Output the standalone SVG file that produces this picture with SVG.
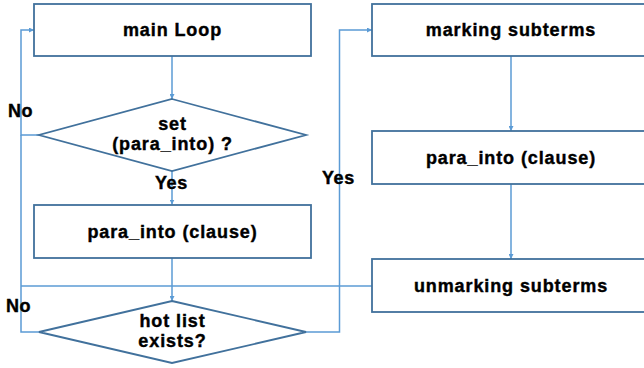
<svg xmlns="http://www.w3.org/2000/svg" width="644" height="368" viewBox="0 0 644 368">
<defs>
<style>
.box{fill:#fff;stroke:#41719C;stroke-width:1.8}
.t{font-family:"Liberation Sans",Arial,sans-serif;font-weight:bold;font-size:18px;letter-spacing:0.9px;fill:#000;stroke:#000;stroke-width:0.4px;text-anchor:middle}
.lbl{font-family:"Liberation Sans",Arial,sans-serif;font-weight:bold;font-size:18px;letter-spacing:0.6px;fill:#000;stroke:#000;stroke-width:0.4px}
.c{fill:none;stroke:#5B9BD5;stroke-width:1.5}
</style>
<marker id="ah" viewBox="0 0 10 10" refX="10" refY="5" markerWidth="5" markerHeight="5" orient="auto" markerUnits="userSpaceOnUse">
<path d="M0,0 L10,5 L0,10 z" fill="#5B9BD5"/>
</marker>
</defs>
<rect width="644" height="368" fill="#fff"/>
<g id="connectors">
<path class="c" d="M172,56 V99" marker-end="url(#ah)"/>
<path class="c" d="M172,170 V204.5" marker-end="url(#ah)"/>
<path class="c" d="M39,135 H21 V30 H34" marker-end="url(#ah)"/>
<path class="c" d="M172,258 V301" marker-end="url(#ah)"/>
<path class="c" d="M39,332 H21 V135"/>
<path class="c" d="M372,286 H21"/>
<path class="c" d="M306,332 H339.5 V30 H372" marker-end="url(#ah)"/>
<path class="c" d="M511,56 V131" marker-end="url(#ah)"/>
<path class="c" d="M511,184 V259" marker-end="url(#ah)"/>
</g>
<g id="main-loop">
<rect class="box" x="34" y="4" width="277" height="52"/>
<text class="t" x="172.5" y="36">main Loop</text>
</g>
<g id="set-para-into">
<polygon class="box" points="172,99 306,135 172,171 39,135"/>
<text class="t" x="172.5" y="130">set</text>
<text class="t" x="172.5" y="150">(para_into) ?</text>
</g>
<g id="para-into-left">
<rect class="box" x="34" y="205" width="277" height="53"/>
<text class="t" x="172.5" y="238">para_into (clause)</text>
</g>
<g id="hot-list">
<polygon class="box" points="172,301 306,332 172,363 39,332"/>
<text class="t" x="172.5" y="327">hot list</text>
<text class="t" x="172.5" y="347">exists?</text>
</g>
<g id="marking">
<rect class="box" x="372" y="4" width="290" height="52"/>
<text class="t" x="511" y="36">marking subterms</text>
</g>
<g id="para-into-right">
<rect class="box" x="372" y="131" width="290" height="53"/>
<text class="t" x="511" y="164">para_into (clause)</text>
</g>
<g id="unmarking">
<rect class="box" x="372" y="259" width="290" height="53"/>
<text class="t" x="511" y="292">unmarking subterms</text>
</g>
<g id="labels">
<text class="lbl" x="8" y="117">No</text>
<text class="lbl" x="155" y="189">Yes</text>
<text class="lbl" x="6" y="312">No</text>
<text class="lbl" x="322" y="184">Yes</text>
</g>
</svg>
